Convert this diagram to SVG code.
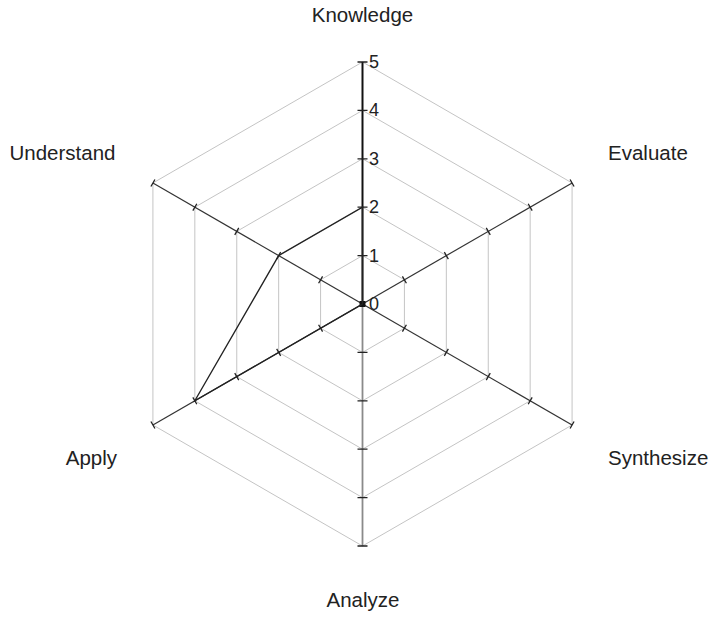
<svg xmlns="http://www.w3.org/2000/svg" width="715" height="618" viewBox="0 0 715 618">
  <style>
    .grid { fill: none; stroke: #c4c4c4; stroke-width: 1; }
    .axis { stroke: #333; stroke-width: 1.2; fill: none; }
    .tick { stroke: #222; stroke-width: 1.3; }
    .main { stroke: #111; stroke-width: 2; }
    .label { font-family: "Liberation Sans", Arial, sans-serif; font-size: 20.5px; fill: #222; }
    .num { font-family: "Liberation Sans", Arial, sans-serif; font-size: 18px; fill: #222; }
    .data { fill: none; stroke: #222; stroke-width: 1.3; stroke-linejoin: miter; }
  </style>
  <rect width="715" height="618" fill="#fff"/>

  <!-- grid rings, levels 1..5 -->
  <g id="grid">
    <polygon class="grid" points="362.5,255.6 404.42,279.8 404.42,328.2 362.5,352.4 320.58,328.2 320.58,279.8"/>
    <polygon class="grid" points="362.5,207.2 446.33,255.6 446.33,352.4 362.5,400.8 278.67,352.4 278.67,255.6"/>
    <polygon class="grid" points="362.5,158.8 488.25,231.4 488.25,376.6 362.5,449.2 236.75,376.6 236.75,231.4"/>
    <polygon class="grid" points="362.5,110.4 530.16,207.2 530.16,400.8 362.5,497.6 194.84,400.8 194.84,207.2"/>
    <polygon class="grid" points="362.5,62 572.08,183 572.08,425 362.5,546 152.92,425 152.92,183"/>
  </g>

  <!-- spokes with ticks -->
  <g id="connectors">
    <g transform="translate(362.5,304) rotate(-30)">
      <line class="axis" x1="0" y1="0" x2="242" y2="0"/>
      <path class="tick" d="M48.4,-4V4M96.8,-4V4M145.2,-4V4M193.6,-4V4M242,-4V4"/>
    </g>
    <g transform="translate(362.5,304) rotate(30)">
      <line class="axis" x1="0" y1="0" x2="242" y2="0"/>
      <path class="tick" d="M48.4,-4V4M96.8,-4V4M145.2,-4V4M193.6,-4V4M242,-4V4"/>
    </g>
    <g transform="translate(362.5,304) rotate(150)">
      <line class="axis" x1="0" y1="0" x2="242" y2="0"/>
      <path class="tick" d="M48.4,-4V4M96.8,-4V4M145.2,-4V4M193.6,-4V4M242,-4V4"/>
    </g>
    <g transform="translate(362.5,304) rotate(210)">
      <line class="axis" x1="0" y1="0" x2="242" y2="0"/>
      <path class="tick" d="M48.4,-4V4M96.8,-4V4M145.2,-4V4M193.6,-4V4M242,-4V4"/>
    </g>
    <g transform="translate(362.5,304) rotate(90)">
      <line x1="0" y1="0" x2="242" y2="0" stroke="#8a8a8a" stroke-width="1.8"/>
      <path class="tick" d="M48.4,-5V5M96.8,-5V5M145.2,-5V5M193.6,-5V5M242,-5V5"/>
    </g>
    <g transform="translate(362.5,304) rotate(-90)">
      <line class="main" x1="0" y1="0" x2="242" y2="0"/>
      <path class="tick" stroke-width="1.8" d="M48.4,-5V5M96.8,-5V5M145.2,-5V5M193.6,-5V5M242,-5V5"/>
    </g>
    <rect x="359.5" y="301" width="6" height="6" fill="#111"/>
  </g>

  <!-- data series -->
  <polygon id="series" class="data" points="362.5,304 362.5,207.2 278.67,255.6 194.84,400.8"/>

  <!-- scale values -->
  <g id="scale" class="num">
    <text x="369" y="310">0</text>
    <text x="369" y="262">1</text>
    <text x="369" y="213">2</text>
    <text x="369" y="165">3</text>
    <text x="369" y="116">4</text>
    <text x="369" y="68">5</text>
  </g>

  <!-- axis names -->
  <g id="knowledge"><text class="label" x="362.5" y="22" text-anchor="middle">Knowledge</text></g>
  <g id="evaluate"><text class="label" x="608" y="160">Evaluate</text></g>
  <g id="synthesize"><text class="label" x="608" y="465">Synthesize</text></g>
  <g id="analyze"><text class="label" x="363" y="607" text-anchor="middle">Analyze</text></g>
  <g id="apply"><text class="label" x="117" y="465" text-anchor="end">Apply</text></g>
  <g id="understand"><text class="label" x="115.5" y="160" text-anchor="end">Understand</text></g>
</svg>
